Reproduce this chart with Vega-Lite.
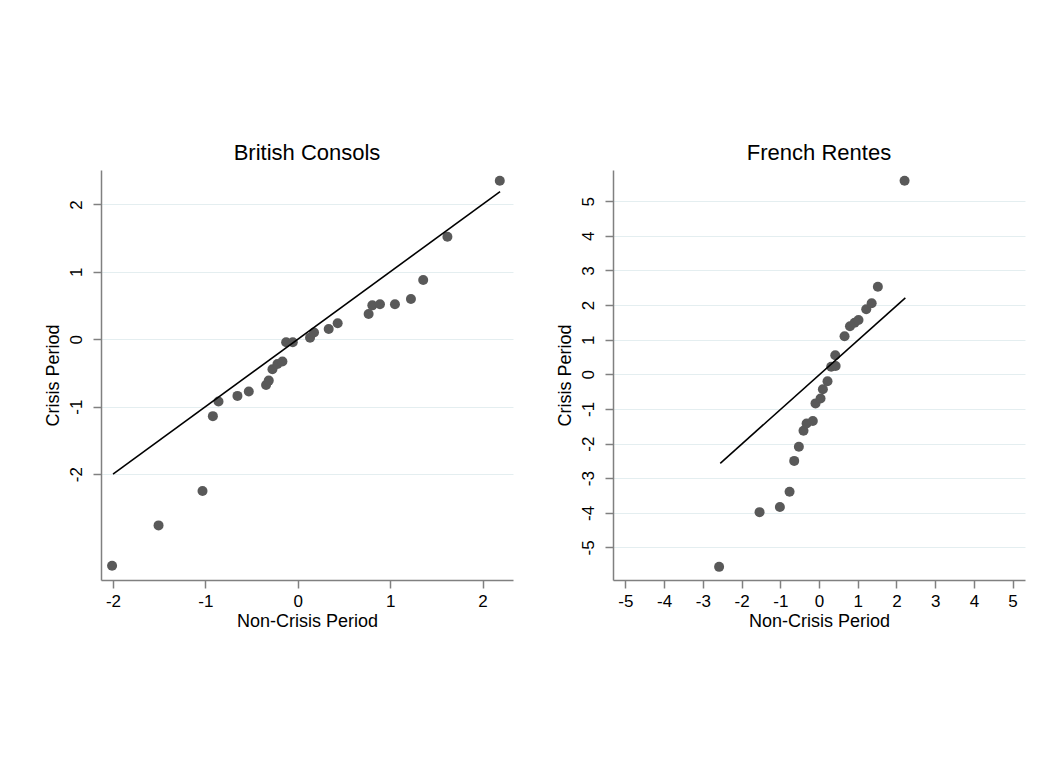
{
  "$schema": "https://vega.github.io/schema/vega-lite/v6.json",
  "background": "white",
  "padding": {"left": 44, "top": 142, "right": 10, "bottom": 10},
  "spacing": 42,
  "config": {
    "font": "Liberation Sans",
    "view": {"stroke": null},
    "axis": {
      "domainColor": "#808080", "domainWidth": 1.5,
      "tickColor": "#808080", "tickWidth": 1.5, "tickSize": 8,
      "labelFontSize": 17, "labelColor": "#000000",
      "titleFontSize": 18, "titleFontWeight": "normal", "titleColor": "#000000",
      "gridColor": "#e4eef0", "gridWidth": 1,
      "labelExpr": "'' + datum.value"
    },
    "axisX": {"grid": false, "labelPadding": 5, "titlePadding": 3},
    "axisY": {"grid": true, "labelAngle": 270, "labelPadding": 8, "titlePadding": 5},
    "title": {"fontSize": 22, "fontWeight": "normal", "color": "#000000", "offset": 5}
  },
  "hconcat": [
    {
      "title": "British Consols",
      "width": 412,
      "height": 410,
      "layer": [
        {
          "data": {"values": [
            {"x": -2.01, "y": -3.36}, {"x": -1.507, "y": -2.76}, {"x": -1.031, "y": -2.25},
            {"x": -0.919, "y": -1.14}, {"x": -0.858, "y": -0.924}, {"x": -0.653, "y": -0.84},
            {"x": -0.53, "y": -0.776}, {"x": -0.343, "y": -0.677}, {"x": -0.314, "y": -0.613},
            {"x": -0.274, "y": -0.445}, {"x": -0.22, "y": -0.366}, {"x": -0.166, "y": -0.331},
            {"x": -0.126, "y": -0.045}, {"x": -0.054, "y": -0.045}, {"x": 0.133, "y": 0.024},
            {"x": 0.176, "y": 0.1}, {"x": 0.335, "y": 0.153}, {"x": 0.432, "y": 0.237},
            {"x": 0.767, "y": 0.375}, {"x": 0.807, "y": 0.503}, {"x": 0.89, "y": 0.518},
            {"x": 1.052, "y": 0.518}, {"x": 1.225, "y": 0.597}, {"x": 1.358, "y": 0.878},
            {"x": 1.62, "y": 1.52}, {"x": 2.187, "y": 2.35}
          ]},
          "mark": {"type": "circle", "color": "#595959", "opacity": 1, "size": 100},
          "encoding": {
            "x": {"field": "x", "type": "quantitative",
                  "scale": {"domain": [-2.13, 2.33], "nice": false, "zero": false},
                  "axis": {"values": [-2, -1, 0, 1, 2], "title": "Non-Crisis Period"}},
            "y": {"field": "y", "type": "quantitative",
                  "scale": {"domain": [-3.57, 2.51], "nice": false, "zero": false},
                  "axis": {"values": [-2, -1, 0, 1, 2], "title": "Crisis Period"}}
          }
        },
        {
          "data": {"values": [{"x": -2, "y": -2}, {"x": 2.19, "y": 2.19}]},
          "mark": {"type": "line", "color": "#000000", "strokeWidth": 1.6},
          "encoding": {
            "x": {"field": "x", "type": "quantitative"},
            "y": {"field": "y", "type": "quantitative"}
          }
        }
      ]
    },
    {
      "title": "French Rentes",
      "width": 412,
      "height": 410,
      "layer": [
        {
          "data": {"values": [
            {"x": -2.58, "y": -5.56}, {"x": -1.535, "y": -3.98}, {"x": -1.01, "y": -3.83},
            {"x": -0.76, "y": -3.39}, {"x": -0.64, "y": -2.5}, {"x": -0.52, "y": -2.09},
            {"x": -0.4, "y": -1.63}, {"x": -0.32, "y": -1.42}, {"x": -0.16, "y": -1.35},
            {"x": -0.09, "y": -0.84}, {"x": 0.04, "y": -0.7}, {"x": 0.1, "y": -0.43},
            {"x": 0.22, "y": -0.2}, {"x": 0.315, "y": 0.22}, {"x": 0.43, "y": 0.24},
            {"x": 0.42, "y": 0.55}, {"x": 0.66, "y": 1.1}, {"x": 0.8, "y": 1.39},
            {"x": 0.92, "y": 1.49}, {"x": 1.02, "y": 1.57}, {"x": 1.22, "y": 1.88},
            {"x": 1.36, "y": 2.05}, {"x": 1.52, "y": 2.53}, {"x": 2.21, "y": 5.59}
          ]},
          "mark": {"type": "circle", "color": "#595959", "opacity": 1, "size": 100},
          "encoding": {
            "x": {"field": "x", "type": "quantitative",
                  "scale": {"domain": [-5.32, 5.32], "nice": false, "zero": false},
                  "axis": {"values": [-5, -4, -3, -2, -1, 0, 1, 2, 3, 4, 5], "title": "Non-Crisis Period"}},
            "y": {"field": "y", "type": "quantitative",
                  "scale": {"domain": [-5.94, 5.9], "nice": false, "zero": false},
                  "axis": {"values": [-5, -4, -3, -2, -1, 0, 1, 2, 3, 4, 5], "title": "Crisis Period"}}
          }
        },
        {
          "data": {"values": [{"x": -2.55, "y": -2.57}, {"x": 2.23, "y": 2.21}]},
          "mark": {"type": "line", "color": "#000000", "strokeWidth": 1.6},
          "encoding": {
            "x": {"field": "x", "type": "quantitative"},
            "y": {"field": "y", "type": "quantitative"}
          }
        }
      ]
    }
  ]
}
